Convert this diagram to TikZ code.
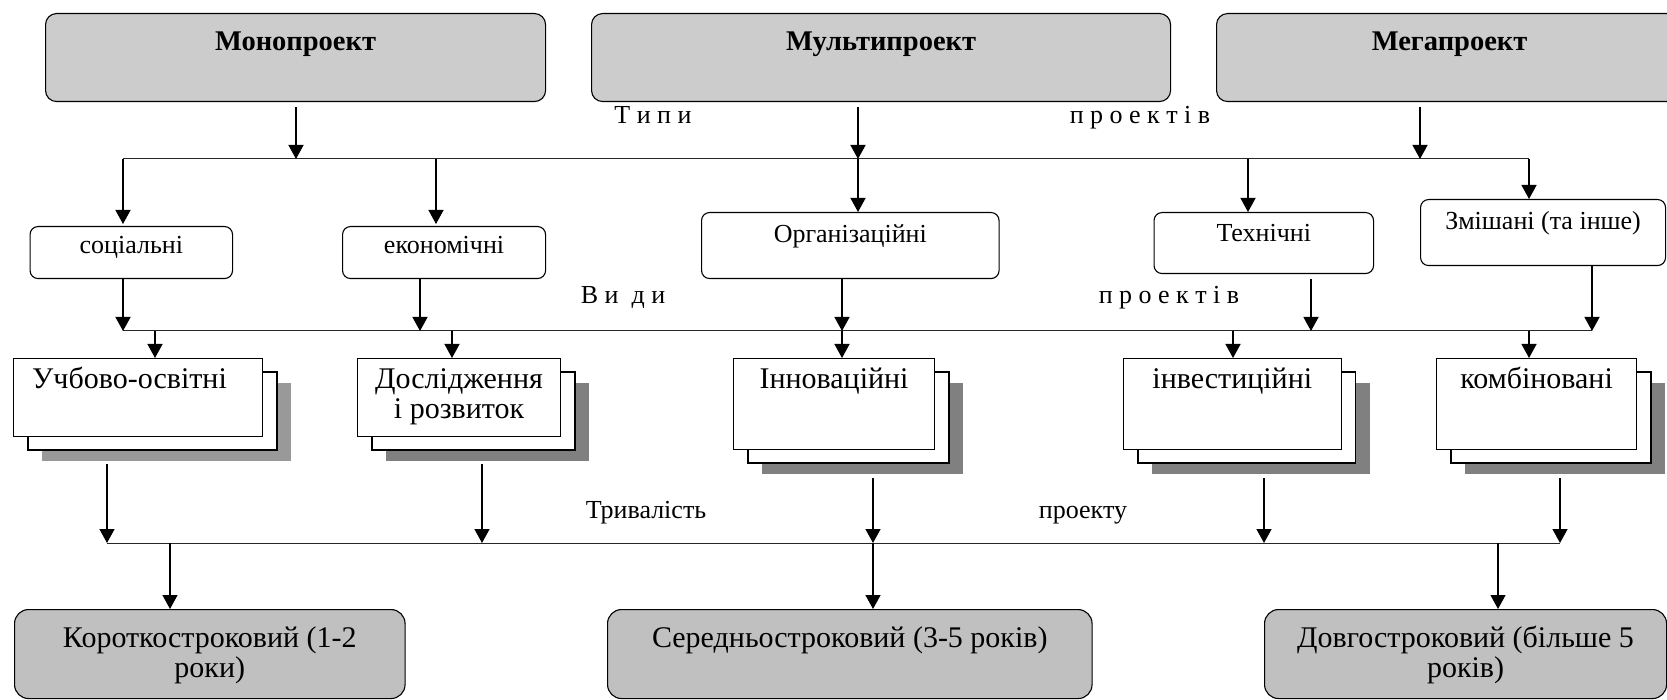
\documentclass[tikz,border=0pt]{standalone}
\usepackage{fontspec}
\setmainfont{Liberation Serif}
\usetikzlibrary{arrows.meta}

\definecolor{topfill}{RGB}{204,204,204}
\definecolor{botfill}{RGB}{192,192,192}
\definecolor{shadeA}{RGB}{153,153,153}
\definecolor{shadeB}{RGB}{128,128,128}

% text block of fixed size: width, height, first baseline offset, text
\newcommand\boxtxt[4]{\parbox[t][#2][t]{#1}{\centering\rule{0pt}{#3}#4\par}}

% stacked box: shadow, back sheet, front sheet with text
\newcommand\stackbox[7]{%
  \fill[#6] ({#2+29},{#3+25}) rectangle ++(#4,#5);
  \draw[layer] ({#2+15},{#3+14}) rectangle ++(#4,#5);
  \node[front] (#1) at (#2,#3) {\boxtxt{#4pt}{#5pt}{30pt}{#7}};
}

\begin{document}
\begin{tikzpicture}[x=1pt,y=-1pt,
  topbox/.style={draw=black,line width=1.1pt,fill=topfill,rounded corners=11pt,inner sep=0pt,anchor=north west,
    font=\bfseries\fontsize{28.5}{31}\selectfont},
  kindbox/.style={draw=black,line width=1.1pt,fill=white,rounded corners=8pt,inner sep=0pt,anchor=north west,
    font=\fontsize{26}{29}\selectfont},
  front/.style={draw=black,line width=1.1pt,fill=white,inner sep=0pt,anchor=north west,
    font=\fontsize{30}{29.5}\selectfont},
  layer/.style={draw=black,line width=1.1pt,fill=white},
  termbox/.style={draw=black,line width=1.1pt,fill=botfill,rounded corners=14pt,inner sep=0pt,anchor=north west,
    font=\fontsize{30}{30}\selectfont},
  lbl/.style={anchor=base,inner sep=0pt,font=\fontsize{26}{29}\selectfont},
  arr/.style={line width=1.4pt,-{Triangle[width=15pt,length=14pt]}},
  bus/.style={line width=1pt,black!85},
]
\useasboundingbox (0,0) rectangle (1667,700);
\clip (0,0) rectangle (1667,700);

% ---- project types ----
\node[topbox] (mono)  at (45,13)   {\boxtxt{500pt}{88pt}{37pt}{Монопроект}};
\node[topbox] (multi) at (591,13)  {\boxtxt{579pt}{88pt}{37pt}{Мультипроект}};
\node[topbox] (mega)  at (1216,13) {\boxtxt{466pt}{88pt}{37pt}{Мегапроект}};

\node[lbl] (typesA) at (653,124)  {Т и п и};
\node[lbl] (typesB) at (1140,124) {п р о е к т і в};

% ---- project kinds ----
\node[kindbox] (soc)  at (29.5,226) {\boxtxt{202.5pt}{52pt}{27pt}{соціальні}};
\node[kindbox] (ekon) at (342,226)  {\boxtxt{203pt}{52pt}{27pt}{економічні}};
\node[kindbox] (org)  at (701,212)  {\boxtxt{297.5pt}{66pt}{30pt}{Організаційні}};
\node[kindbox] (tech) at (1153.5,212) {\boxtxt{219.5pt}{61pt}{29pt}{Технічні}};
\node[kindbox] (mix)  at (1420,199) {\boxtxt{245pt}{66pt}{30pt}{Змішані (та інше)}};

\node[lbl] (kindsA) at (623,304)  {В и \ д и};
\node[lbl] (kindsB) at (1169,304) {п р о е к т і в};

% ---- project fields ----
\stackbox{ucheb}{13}{358}{249}{78}{shadeA}{Учбово-освітні\hspace*{17pt}}
\stackbox{dosl}{357}{358}{203}{78}{shadeB}{Дослідження\\і розвиток}
\stackbox{innov}{733}{358}{201}{91}{shadeB}{Інноваційні}
\stackbox{invest}{1123}{358}{217.5}{91}{shadeB}{інвестиційні}
\stackbox{comb}{1436}{358}{200}{91}{shadeB}{комбіновані}

\node[lbl] (durA) at (646,518)  {Тривалість};
\node[lbl] (durB) at (1083,518) {проекту};

% ---- project duration ----
\node[termbox] (short) at (14,609)   {\boxtxt{390.5pt}{89pt}{38pt}{Короткостроковий (1-2\\роки)}};
\node[termbox] (mid)   at (607,609)  {\boxtxt{484.5pt}{89pt}{38pt}{Середньостроковий (3-5 років)}};
\node[termbox] (long)  at (1264,609) {\boxtxt{402pt}{89pt}{38pt}{Довгостроковий (більше 5\\років)}};

% ---- bus lines ----
\coordinate (j1soc)  at (123,159);
\coordinate (j1mono) at (296,159);
\coordinate (j1ekon) at (436,159);
\coordinate (j1org)  at (858,159);
\coordinate (j1tech) at (1248,159);
\coordinate (j1mega) at (1420,159);
\coordinate (j1mix)  at (1529,159);

\coordinate (j2soc)  at (123,331);
\coordinate (k2uch)  at (155,331);
\coordinate (j2ekon) at (420,331);
\coordinate (k2dosl) at (452,331);
\coordinate (j2org)  at (842,331);
\coordinate (k2inv)  at (1233,331);
\coordinate (j2tech) at (1311,331);
\coordinate (k2comb) at (1529,331);
\coordinate (j2mix)  at (1592,331);

\coordinate (j3uch)   at (107,543);
\coordinate (k3short) at (170,543);
\coordinate (j3dosl)  at (482,543);
\coordinate (j3inn)   at (873,543);
\coordinate (j3inv)   at (1264,543);
\coordinate (k3long)  at (1498,543);
\coordinate (j3comb)  at (1560,543);

\draw[bus] (j1soc) -- (j1mix);
\draw[bus] (j2soc) -- (j2mix);
\draw[bus] (j3uch) -- (j3comb);

% types -> kinds
\draw[arr] ([yshift=-5pt]mono.south -| j1mono)  -- (j1mono);
\draw[arr] ([yshift=-5pt]multi.south -| j1org)  -- (j1org);
\draw[arr] ([yshift=-5pt]mega.south -| j1mega)  -- (j1mega);
\draw[arr] (j1soc)  -- ([yshift=2pt]soc.north -| j1soc);
\draw[arr] (j1ekon) -- ([yshift=2pt]ekon.north -| j1ekon);
\draw[arr] (j1org)  -- (org.north -| j1org);
\draw[arr] (j1tech) -- (tech.north -| j1tech);
\draw[arr] (j1mix)  -- (mix.north -| j1mix);

% kinds -> fields
\draw[arr] (soc.south -| j2soc)   -- (j2soc);
\draw[arr] (ekon.south -| j2ekon) -- (j2ekon);
\draw[arr] (org.south -| j2org)   -- (j2org);
\draw[arr] ([yshift=-5pt]tech.south -| j2tech) -- (j2tech);
\draw[arr] (mix.south -| j2mix)   -- (j2mix);
\draw[arr] (k2uch)  -- (ucheb.north -| k2uch);
\draw[arr] (k2dosl) -- (dosl.north -| k2dosl);
\draw[arr] (j2org)  -- (innov.north -| j2org);
\draw[arr] (k2inv)  -- (invest.north -| k2inv);
\draw[arr] (k2comb) -- (comb.north -| k2comb);

% fields -> duration
\draw[arr] ([yshift=-27pt]ucheb.south -| j3uch)  -- (j3uch);
\draw[arr] ([yshift=-27pt]dosl.south -| j3dosl)  -- (j3dosl);
\draw[arr] ([yshift=-28pt]innov.south -| j3inn)  -- (j3inn);
\draw[arr] ([yshift=-28pt]invest.south -| j3inv) -- (j3inv);
\draw[arr] ([yshift=-28pt]comb.south -| j3comb)  -- (j3comb);
\draw[arr] (k3short) -- (short.north -| k3short);
\draw[arr] (j3inn)   -- (mid.north -| j3inn);
\draw[arr] (k3long)  -- (long.north -| k3long);
\end{tikzpicture}
\end{document}
